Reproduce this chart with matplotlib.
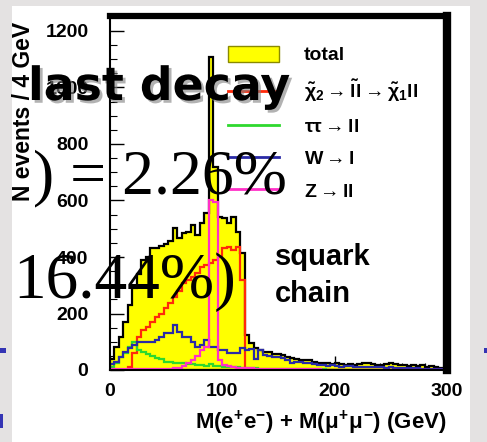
import numpy as np
import matplotlib
matplotlib.use("Agg")
import matplotlib.pyplot as plt
from matplotlib.patches import Rectangle, Patch
from matplotlib.lines import Line2D
import matplotlib.patheffects as pe
from matplotlib.ticker import MultipleLocator

# ---- data: dilepton invariant mass, 4 GeV bins from 0 to 300 GeV ----
bin_edges = np.arange(0, 304, 4)

total = [40, 80, 117, 170, 230, 290, 340, 390, 400, 432,
         432, 440, 445, 455, 502, 467, 485, 490, 513, 478,
         520, 555, 1108, 720, 540, 538, 520, 540, 488, 414,
         124, 95, 78, 71, 64, 62, 58, 55, 52, 45,
         42, 40, 36, 35, 34, 30, 26, 25, 24, 22,
         25, 20, 18, 20, 18, 22, 26, 24, 20, 18,
         17, 20, 24, 20, 16, 18, 14, 17, 14, 16,
         12, 13, 10, 8, 6]

chi2_chain = [0, 0, 0, 0, 10, 60, 117, 140, 152, 170,
              188, 200, 219, 237, 258, 280, 308, 318, 329, 343,
              365, 370, 380, 390, 400, 432, 436, 425, 436, 318] + [0] * 45

tautau = [10, 25, 45, 60, 80, 100, 72, 64, 58, 50,
          42, 38, 30, 28, 26, 25, 24, 22, 20, 18,
          16, 15, 20, 15, 14, 12, 12, 10, 10, 8,
          7, 6, 6, 5, 5, 4, 4, 4, 3, 3,
          3, 3, 2, 2, 2, 2, 2, 2, 1, 1,
          1, 1, 1, 1, 1, 1, 1, 1, 1, 1,
          0, 0, 0, 0, 0, 0, 0, 0, 0, 0,
          0, 0, 0, 0, 0]

w_lep = [20, 28, 46, 64, 78, 88, 99, 99, 99, 99,
         106, 117, 131, 131, 159, 135, 117, 117, 99, 81,
         90, 106, 81, 81, 71, 71, 60, 60, 60, 78,
         71, 74, 38, 70, 52, 50, 47, 45, 42, 36,
         26, 30, 27, 25, 26, 20, 18, 17, 15, 16,
         14, 12, 13, 15, 12, 10, 12, 11, 10, 9,
         10, 8, 9, 8, 7, 8, 7, 6, 6, 5,
         5, 5, 4, 4, 3]

z_ll = [2, 2, 2, 2, 2, 3, 3, 3, 3, 3,
        4, 4, 5, 5, 6, 7, 15, 25, 35, 50,
        70, 80, 600, 595, 35, 18, 14, 10, 8, 7,
        7, 6, 5, 5, 4, 4, 3, 3, 3, 3,
        2, 2, 2, 2, 2, 2, 2, 1, 1, 1,
        1, 1, 1, 1, 1, 1, 1, 1, 1, 1,
        1, 1, 1, 1, 1, 1, 1, 1, 1, 1,
        1, 1, 1, 1, 1]

legend_labels = ["total",
                 r"$\tilde{\chi}_2 \rightarrow \tilde{l}l \rightarrow \tilde{\chi}_1 ll$",
                 r"$\tau\tau \rightarrow ll$",
                 r"$W \rightarrow l$",
                 r"$Z \rightarrow ll$"]

x_ticks = [0, 100, 200, 300]
y_ticks = [0, 200, 400, 600, 800, 1000, 1200]

# ---- styling ----
plt.rcParams["font.family"] = ["Liberation Sans", "DejaVu Sans"]
plt.rcParams["mathtext.fontset"] = "custom"
plt.rcParams["mathtext.rm"] = "Liberation Sans:bold"
plt.rcParams["mathtext.it"] = "Liberation Sans:bold"
plt.rcParams["mathtext.bf"] = "Liberation Sans:bold"
plt.rcParams["mathtext.sf"] = "Liberation Sans:bold"

W, H = 487, 442
fig = plt.figure(figsize=(W / 100, H / 100), dpi=100)
fig.patch.set_facecolor("#e4e2e2")


def fx(px):
    return px / W


def fy(py):
    return 1 - py / H


# white slide panel behind the plot
fig.add_artist(Rectangle((fx(12), 0), fx(470) - fx(12), fy(6),
                         transform=fig.transFigure, facecolor="white",
                         edgecolor="none", zorder=0))
# small blue bullet fragments at the slide edges
for (x0, y0, w, h) in [(0, 348, 6, 5), (0, 414, 3, 14), (484, 348, 3, 5)]:
    fig.add_artist(Rectangle((fx(x0), fy(y0 + h)), w / W, h / H,
                             transform=fig.transFigure, facecolor="#3434b4",
                             edgecolor="none", zorder=1))

ax = fig.add_axes([fx(110), fy(370), fx(447) - fx(110), fy(16) - fy(370)])
ax.set_facecolor("white")
ax.set_xlim(0, 300)
ax.set_ylim(0, 354 / (339 / 1200))

centers = bin_edges[:-1]
ax.hist(centers, bins=bin_edges, weights=total, histtype="stepfilled",
        facecolor="#ffff00", edgecolor="black", linewidth=1.6, zorder=2)
ax.hist(centers, bins=bin_edges, weights=chi2_chain, histtype="step",
        color="#ff2a0a", linewidth=1.6, zorder=3)
ax.hist(centers, bins=bin_edges, weights=tautau, histtype="step",
        color="#2ed82e", linewidth=1.6, zorder=4)
ax.hist(centers, bins=bin_edges, weights=w_lep, histtype="step",
        color="#2a2aa6", linewidth=1.6, zorder=5)
ax.hist(centers, bins=bin_edges, weights=z_ll, histtype="step",
        color="#ff30c8", linewidth=1.6, zorder=6)

# frame: thin left/bottom, heavy top/right
ax.spines["left"].set_linewidth(1.5)
ax.spines["bottom"].set_linewidth(1.5)
ax.spines["top"].set_linewidth(4.5)
ax.spines["right"].set_linewidth(6)
for s in ax.spines.values():
    s.set_zorder(10)

ax.set_xticks(x_ticks)
ax.set_yticks(y_ticks)
ax.xaxis.set_minor_locator(MultipleLocator(20))
ax.yaxis.set_minor_locator(MultipleLocator(50))
ax.tick_params(which="major", direction="in", length=10, width=1.0,
               labelsize=14, top=False, right=False)
ax.tick_params(which="minor", direction="in", length=5, width=0.8,
               top=False, right=False)
ax.tick_params(axis="y", pad=15.5)
ax.tick_params(axis="x", pad=9)
for lab in ax.get_xticklabels() + ax.get_yticklabels():
    lab.set_fontweight("bold")

ax.set_ylabel("N events / 4 GeV", fontsize=16.5, fontweight="bold")
ax.yaxis.set_label_coords(-0.222, (370 - 22) / 354)
ax.yaxis.label.set_horizontalalignment("right")
ax.set_xlabel(r"M(e$^{+}$e$^{-}$) + M($\mu^{+}\mu^{-}$) (GeV)",
              fontsize=16, fontweight="bold")
ax.xaxis.set_label_coords(1.0, -0.108)
ax.xaxis.label.set_horizontalalignment("right")

handles = [Patch(facecolor="#ffff00", edgecolor="#8a8a00", linewidth=1.0),
           Line2D([], [], color="#ff2a0a", lw=2),
           Line2D([], [], color="#2ed82e", lw=2),
           Line2D([], [], color="#2a2aa6", lw=2),
           Line2D([], [], color="#ff30c8", lw=2)]
leg = ax.legend(handles, legend_labels, loc="upper left",
                bbox_to_anchor=((228 - 110) / 337, (370 - 46) / 354),
                frameon=False, fontsize=14, borderpad=0, borderaxespad=0,
                handlelength=2.6, handleheight=0.85, handletextpad=1.3,
                labelspacing=0.7, prop={"weight": "bold", "size": 14})
leg.set_zorder(8)

# ---- slide annotations drawn over the plot ----
fig.text(fx(28), fy(100), "last decay", fontsize=33, fontweight="bold",
         family="DejaVu Sans", color="black", va="baseline", ha="left",
         zorder=20,
         path_effects=[pe.SimplePatchShadow(offset=(2, -2),
                                            shadow_rgbFace="#808080",
                                            alpha=0.6),
                       pe.Normal()])
fig.text(fx(33), fy(193), ") = 2.26%", fontsize=46,
         family="Liberation Serif", color="black", va="baseline",
         ha="left", zorder=20)
fig.text(fx(13), fy(298), "16.44%)", fontsize=47,
         family="Liberation Serif", color="black", va="baseline",
         ha="left", zorder=20)
fig.text(fx(275), fy(265), "squark", fontsize=21, fontweight="bold",
         color="black", va="baseline", ha="left", zorder=20)
fig.text(fx(275), fy(302), "chain", fontsize=21, fontweight="bold",
         color="black", va="baseline", ha="left", zorder=20)

fig.savefig("out.png", dpi=100, facecolor=fig.get_facecolor())
